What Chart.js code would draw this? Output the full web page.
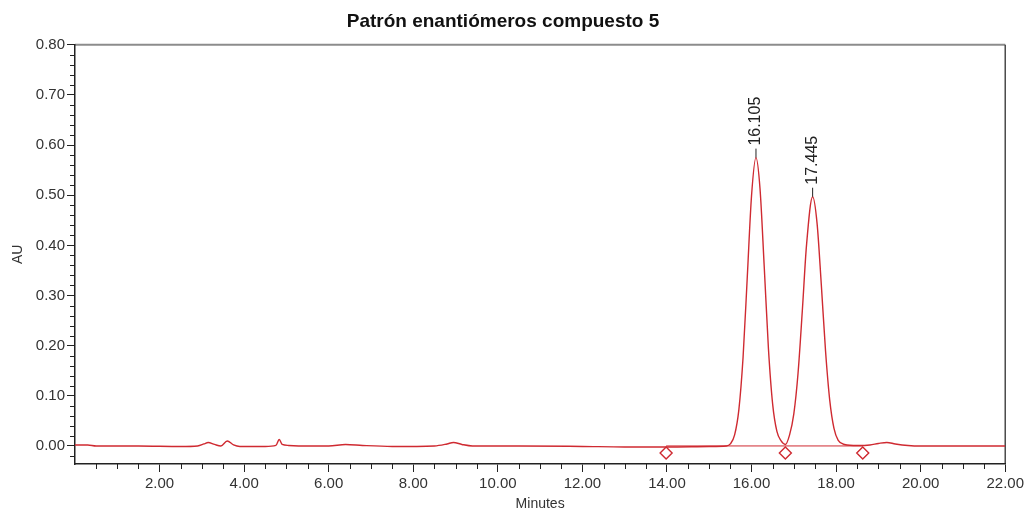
<!DOCTYPE html>
<html>
<head>
<meta charset="utf-8">
<title>Patrón enantiómeros compuesto 5</title>
<script src="https://cdn.jsdelivr.net/npm/chart.js@4.4.1/dist/chart.umd.min.js"></script>
<style>
  html, body { margin: 0; padding: 0; background: #fff; }
  #wrap { width: 1027px; height: 513px; }
</style>
</head>
<body>
<div id="wrap"><canvas id="chromChart" width="1027" height="513"></canvas></div>
<script>
// ─── Trace data (minutes / AU) ────────────────────────────
const traceMinutes = [
  0.00, 0.30, 0.50, 1.50, 2.50, 2.90, 3.05, 3.15, 3.30, 3.45, 3.60, 3.75, 3.90,
  4.50, 4.75, 4.83, 4.90, 5.05, 5.50, 6.00, 6.40, 6.80, 7.50, 8.50, 8.80, 8.95,
  9.15, 9.40, 10.50, 12.00, 13.00, 14.00, 15.00, 15.40, 15.50, 15.60, 15.70,
  15.80, 15.90, 16.00, 16.105, 16.20, 16.30, 16.40, 16.50, 16.60, 16.70, 16.80,
  16.90, 17.00, 17.10, 17.20, 17.30, 17.445, 17.55, 17.65, 17.75, 17.85, 17.95,
  18.05, 18.20, 18.50, 18.80, 19.00, 19.20, 19.40, 19.70, 20.00, 22.00
];
const traceAU = [
  0.002, 0.002, 0.000, 0.000, -0.001, 0.000, 0.004, 0.007, 0.003, 0.000, 0.010, 0.002, -0.001,
  -0.001, 0.001, 0.013, 0.003, 0.001, 0.000, 0.000, 0.003, 0.001, -0.001, 0.000, 0.004, 0.007,
  0.003, 0.000, 0.000, -0.001, -0.002, -0.002, -0.001, 0.000, 0.004, 0.022, 0.072,
  0.177, 0.338, 0.499, 0.575, 0.514, 0.358, 0.194, 0.083, 0.029, 0.010, 0.003,
  0.022, 0.064, 0.145, 0.268, 0.400, 0.497, 0.444, 0.322, 0.190, 0.091, 0.035,
  0.011, 0.003, 0.001, 0.002, 0.005, 0.007, 0.004, 0.001, 0.000, 0.000
];

// integration baseline and start/valley/end markers
const baselineMinutes = [13.98, 18.63];
const baselineAU = [0.000, 0.000];
const markerMinutes = [13.98, 16.80, 18.63];
const markerAU = [-0.014, -0.014, -0.014];

// labelled peaks
const peakMinutes = [16.105, 17.445];
const peakAU = [0.575, 0.497];
const peakLabels = ['16.105', '17.445'];

// ─── Axes ─────────────────────────────────────────────────
const xMajorTicks = [2, 4, 6, 8, 10, 12, 14, 16, 18, 20, 22];
const xMinorStep = 0.5;
const yMajorTicks = [0.0, 0.1, 0.2, 0.3, 0.4, 0.5, 0.6, 0.7, 0.8];
const yMinorStep = 0.02;
const X_MIN = 0, X_MAX = 22;
const Y_MIN = -0.036, Y_MAX = 0.8;

const RED = '#cf2a31';
const FONT = '"Liberation Sans", Arial, sans-serif';

const toPoints = (xs, ys) => xs.map((x, i) => ({ x, y: ys[i] }));

// minor tick marks + frame + peak annotations
const chromDecor = {
  id: 'chromDecor',
  beforeDraw(chart) {
    const { ctx, chartArea: a } = chart;
    ctx.save();
    ctx.lineWidth = 2;
    ctx.strokeStyle = '#8c8c8c';
    ctx.beginPath();
    ctx.moveTo(a.left, a.top);
    ctx.lineTo(a.right, a.top);
    ctx.stroke();
    ctx.strokeStyle = '#4a4a4a';
    ctx.lineWidth = 1.5;
    ctx.beginPath();
    ctx.moveTo(a.right, a.top);
    ctx.lineTo(a.right, a.bottom);
    ctx.stroke();
    ctx.restore();
  },
  afterDraw(chart) {
    const { ctx, chartArea: a, scales: { x, y } } = chart;
    ctx.save();
    ctx.strokeStyle = '#222';
    ctx.lineWidth = 1;
    ctx.beginPath();
    for (let v = X_MIN + xMinorStep; v < X_MAX; v += xMinorStep) {
      if (Math.abs(v / 2 - Math.round(v / 2)) < 1e-6) continue;
      const px = Math.round(x.getPixelForValue(v)) + 0.5;
      ctx.moveTo(px, a.bottom);
      ctx.lineTo(px, a.bottom + 5);
    }
    for (let i = -1; i * yMinorStep <= Y_MAX + 1e-9; i++) {
      const v = i * yMinorStep;
      if (i % 5 === 0) continue;
      const py = Math.round(y.getPixelForValue(v)) + 0.5;
      ctx.moveTo(a.left, py);
      ctx.lineTo(a.left - 5, py);
    }
    ctx.stroke();

    // retention time labels above each apex
    ctx.fillStyle = '#222';
    ctx.font = '16px ' + FONT;
    ctx.textAlign = 'left';
    ctx.textBaseline = 'middle';
    peakMinutes.forEach((t, i) => {
      const px = x.getPixelForValue(t);
      const py = y.getPixelForValue(peakAU[i]);
      ctx.beginPath();
      ctx.moveTo(px, py);
      ctx.lineTo(px, py - 9);
      ctx.stroke();
      ctx.save();
      ctx.translate(px, py - 12);
      ctx.rotate(-Math.PI / 2);
      ctx.fillText(peakLabels[i], 0, 0);
      ctx.restore();
    });
    ctx.restore();
  }
};

new Chart(document.getElementById('chromChart'), {
  type: 'scatter',
  data: {
    datasets: [
      {
        label: 'Trace',
        data: toPoints(traceMinutes, traceAU),
        showLine: true,
        borderColor: RED,
        borderWidth: 1.4,
        pointRadius: 0,
        cubicInterpolationMode: 'monotone',
      },
      {
        label: 'Baseline',
        data: toPoints(baselineMinutes, baselineAU),
        showLine: true,
        borderColor: RED,
        borderWidth: 1,
        pointRadius: 0,
      },
      {
        label: 'Markers',
        data: toPoints(markerMinutes, markerAU),
        showLine: false,
        pointStyle: 'rectRot',
        pointRadius: 6,
        pointBorderColor: RED,
        pointBorderWidth: 1.4,
        pointBackgroundColor: 'rgba(255,255,255,0)',
      },
    ],
  },
  plugins: [chromDecor],
  options: {
    responsive: false,
    animation: false,
    layout: { padding: { left: 0, right: 21, top: 0, bottom: 0 } },
    plugins: {
      legend: { display: false },
      tooltip: { enabled: false },
      title: {
        display: true,
        text: 'Patrón enantiómeros compuesto 5',
        color: '#111',
        font: { family: FONT, size: 19, weight: 'bold' },
        padding: { top: 10, bottom: 12 },
      },
    },
    scales: {
      x: {
        type: 'linear',
        min: X_MIN,
        max: X_MAX,
        afterFit: s => { s.height = 49; },
        afterBuildTicks: s => { s.ticks = xMajorTicks.map(v => ({ value: v })); },
        grid: { drawOnChartArea: false, tickLength: 8, tickColor: '#222' },
        border: { color: '#222', width: 1.5 },
        ticks: {
          color: '#333',
          font: { family: FONT, size: 15 },
          padding: 3,
          maxRotation: 0,
          callback: v => v.toFixed(2),
        },
        title: {
          display: true,
          text: 'Minutes',
          color: '#333',
          font: { family: FONT, size: 14 },
          padding: { top: 0, bottom: 0 },
        },
      },
      y: {
        type: 'linear',
        min: Y_MIN,
        max: Y_MAX,
        afterFit: s => { s.width = 75; },
        afterBuildTicks: s => { s.ticks = yMajorTicks.map(v => ({ value: v })); },
        grid: { drawOnChartArea: false, tickLength: 8, tickColor: '#222' },
        border: { color: '#222', width: 1.5 },
        ticks: {
          color: '#333',
          font: { family: FONT, size: 15 },
          padding: 2,
          callback: v => v.toFixed(2),
        },
        title: {
          display: true,
          text: 'AU',
          color: '#333',
          font: { family: FONT, size: 14 },
          padding: { top: 10, bottom: 0 },
        },
      },
    },
  },
});
</script>
</body>
</html>
